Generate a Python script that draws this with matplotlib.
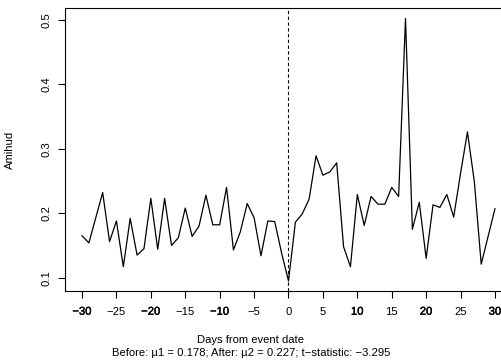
import numpy as np
import matplotlib
matplotlib.use("Agg")
import matplotlib.pyplot as plt
import matplotlib.patheffects as pe

plt.rcParams['font.family'] = ['Liberation Sans', 'DejaVu Sans']

# Daily Amihud illiquidity around the event, days -30..30
dias = list(range(-30, 31))
amihud = [0.165, 0.154, 0.193, 0.232, 0.156, 0.188, 0.117, 0.192, 0.135, 0.145,
          0.223, 0.144, 0.223, 0.150, 0.162, 0.208, 0.164, 0.180, 0.228, 0.182,
          0.182, 0.240, 0.143, 0.171, 0.215, 0.193, 0.134, 0.188, 0.187, 0.138,
          0.095,
          0.186, 0.199, 0.222, 0.289, 0.259, 0.264, 0.278, 0.148, 0.117, 0.229,
          0.181, 0.226, 0.214, 0.214, 0.240, 0.226, 0.502, 0.175, 0.217, 0.130,
          0.213, 0.209, 0.229, 0.194, 0.262, 0.326, 0.249, 0.121, 0.164, 0.207]

xticks = list(range(-30, 31, 5))
yticks = [0.1, 0.2, 0.3, 0.4, 0.5]
subtitulo = "Before: \u00b51 = 0.178; After: \u00b52 = 0.227; t\u2212statistic: \u22123.295"

fs = 8.1

fig = plt.figure(figsize=(5.02, 3.62), dpi=100)
ax = fig.add_axes([65.5 / 502, 70.6 / 362, 446 / 502, 283.4 / 362])

ax.plot(dias, amihud, color='black', linewidth=0.9)
ax.axvline(0, color='black', linewidth=0.8, linestyle=(0, (3, 2.2)))

# rango con el 4% extra como en R
ymin, ymax = min(amihud), max(amihud)
r = ymax - ymin
ax.set_ylim(ymin - 0.04 * r, ymax + 0.04 * r)
ax.set_xlim(-32.4, 32.4)

ax.set_xticks(xticks)
ax.set_xticklabels([str(t).replace('-', '\u2212') for t in xticks])
# las decenas salen un poco mas oscuras
for lab, t in zip(ax.get_xticklabels(), xticks):
    if t % 10 == 0 and t != 0:
        lab.set_path_effects([pe.withStroke(linewidth=0.3, foreground='black')])
ax.set_yticks(yticks)
ax.set_yticklabels([str(t) for t in yticks], rotation=90, va='center')

ax.tick_params(axis='both', direction='out', length=5, width=0.8,
               labelsize=fs, colors='black')
ax.tick_params(axis='x', pad=6)
ax.tick_params(axis='y', pad=5)

for s in ax.spines.values():
    s.set_linewidth(0.8)

fig.text(0.5, 1 - 340 / 362, "Days from event date", ha='center', va='center', fontsize=fs)
fig.text(0.5, 1 - 353 / 362, subtitulo, ha='center', va='center', fontsize=fs)
fig.text(10 / 502, 1 - 150 / 362, "Amihud", rotation=90, ha='center', va='center', fontsize=fs)

fig.savefig("out.png", dpi=100)
